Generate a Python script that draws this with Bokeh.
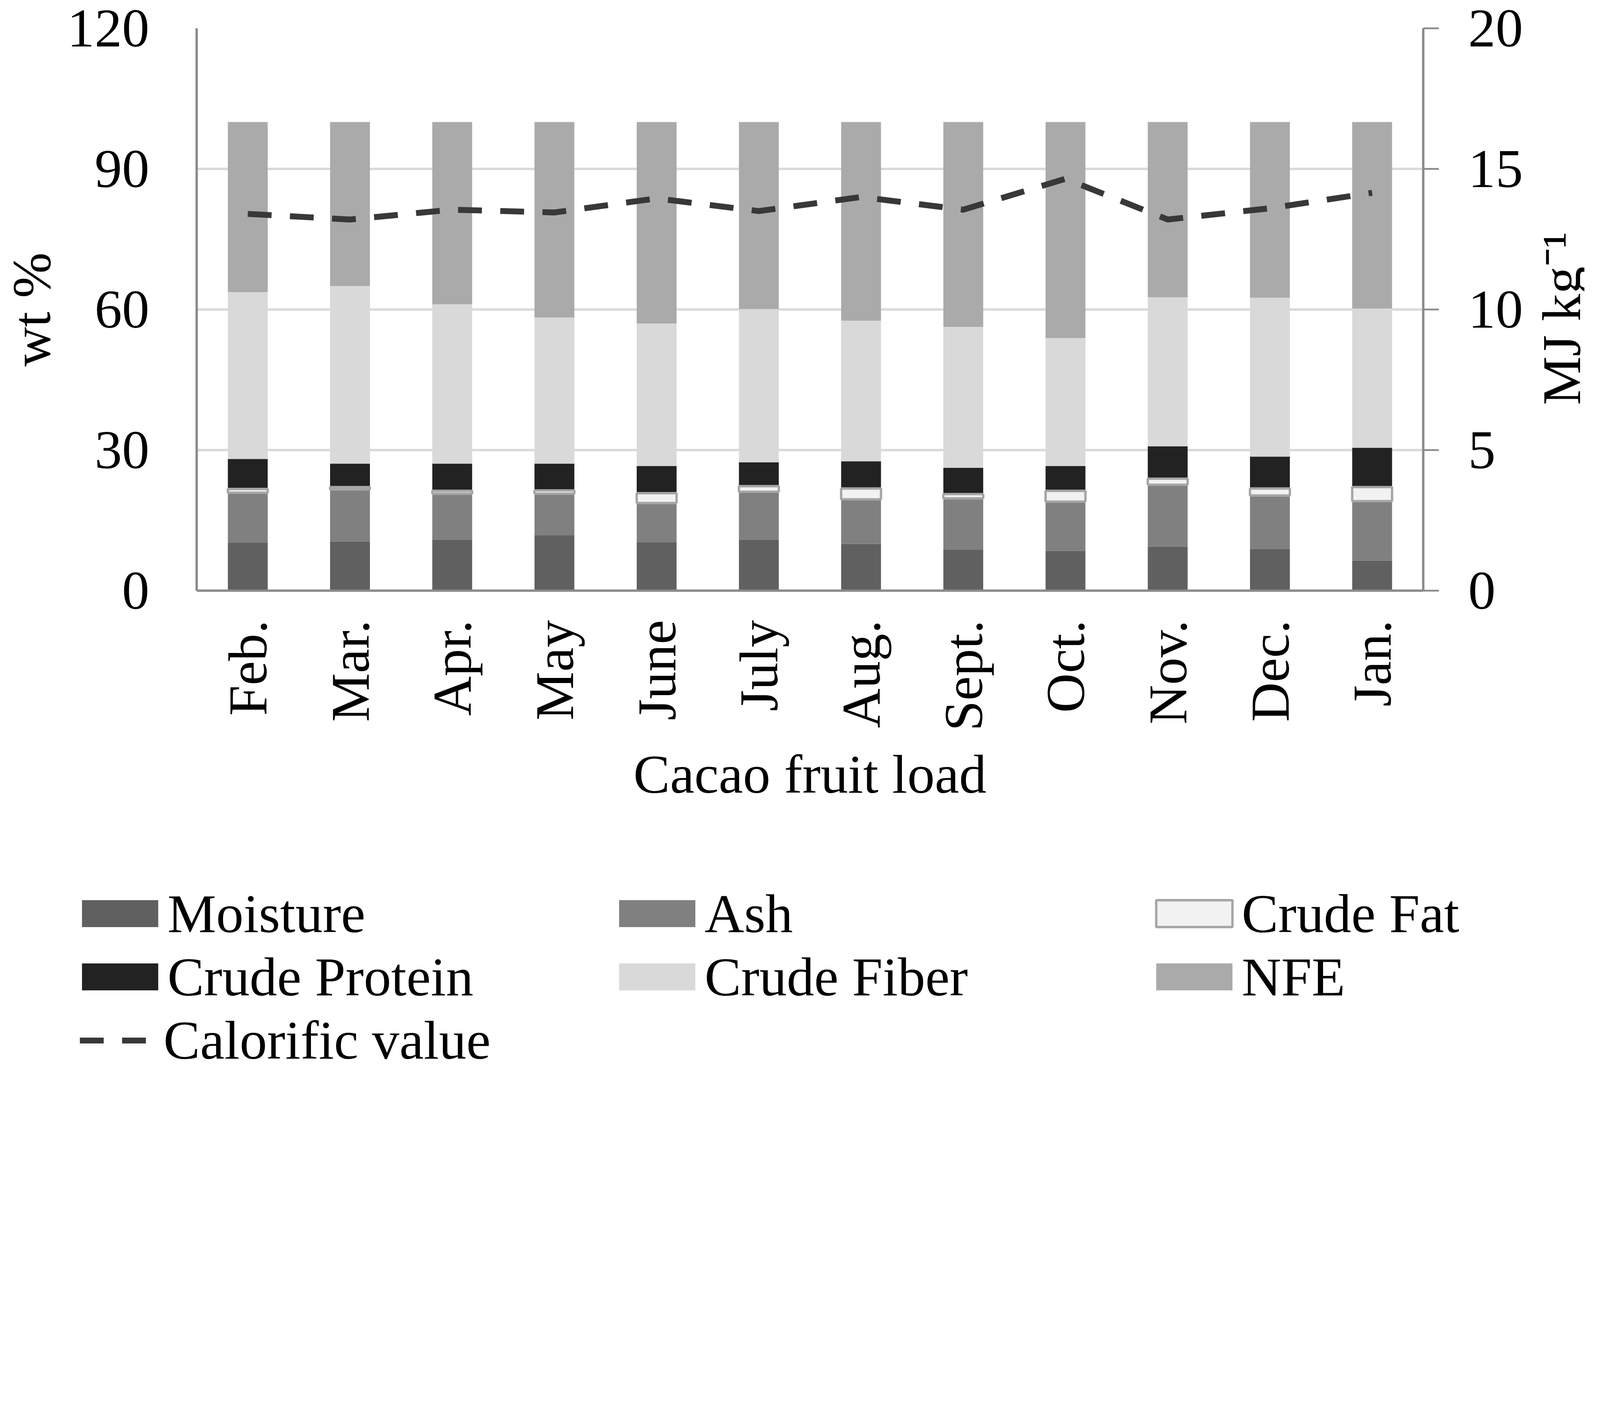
import math
from bokeh.plotting import figure
from bokeh.models import (FactorRange, Range1d, LinearAxis, FixedTicker, Legend,
                          LegendItem, ColumnDataSource, Label)
from bokeh.transform import stack
from bokeh.embed import file_html
from bokeh.resources import INLINE

# ---------------- data ----------------
months = ["Feb.", "Mar.", "Apr.", "May", "June", "July", "Aug.", "Sept.",
          "Oct.", "Nov.", "Dec.", "Jan."]
moisture = [10.2, 10.5, 10.9, 11.8, 10.3, 10.9, 10.0, 8.7, 8.5, 9.4, 8.9, 6.4]
ash = [10.7, 11.1, 9.8, 8.9, 8.4, 10.2, 9.5, 11.0, 10.5, 13.2, 11.4, 12.7]
crude_fat = [0.8, 0.5, 0.6, 0.7, 2.1, 1.2, 2.3, 0.9, 2.3, 1.3, 1.5, 3.0]
crude_protein = [6.4, 5.0, 5.8, 5.7, 5.8, 5.1, 5.8, 5.6, 5.3, 6.9, 6.8, 8.4]
crude_fiber = [35.6, 37.9, 34.0, 31.2, 30.4, 32.7, 30.0, 30.1, 27.3, 31.8, 33.9, 29.7]
nfe = [36.3, 35.0, 38.9, 41.7, 43.0, 39.9, 42.4, 43.7, 46.1, 37.4, 37.5, 39.8]
calorific = [13.4, 13.2, 13.55, 13.45, 13.95, 13.5, 14.0, 13.55, 14.65, 13.2, 13.6, 14.15]

wt_ticks = [0, 30, 60, 90, 120]
mj_ticks = [0, 5, 10, 15, 20]

series_colors = dict(moisture="#606060", ash="#808080", fat="#f2f2f2", protein="#222222",
                     fiber="#d9d9d9", nfe="#aaaaaa", line="#383838", fat_edge="#a6a6a6")

# ---------------- layout helpers (screen scale) ----------------
K = 5401 / 4096   # physical pixels per CSS pixel


def L(v):         # a length in reference pixels -> CSS pixels
    return v / K


FIG_W = 4096 - 16
FIG_H = int(3608 / K) - 16
B_LEFT = int(round(674 / K - 8))
B_TOP = int(round(105 / K - 8))
FRAME_W = int(round((4814 - 674) / K))
FRAME_H = int(round((2004 - 105) / K))
B_BOTTOM = 603
H1 = B_TOP + FRAME_H + B_BOTTOM
GAP = 33                   # observed offset between the chart and the legend strip
H2 = FIG_H - H1 - GAP + 120
P2_TOP = 8 + H1 + GAP      # page y (CSS) of the legend strip

FONT = "Liberation Serif"
FS = "%.1fpx" % L(185)

source = ColumnDataSource(dict(month=months, moisture=moisture, ash=ash, fat=crude_fat,
                               protein=crude_protein, fiber=crude_fiber, nfe=nfe,
                               cv=calorific))

p1 = figure(x_range=FactorRange(*months, range_padding=0), y_range=Range1d(0, 120),
            frame_width=FRAME_W, frame_height=FRAME_H, output_backend="svg",
            toolbar_location=None, title=None, min_border_left=B_LEFT,
            min_border_right=10, min_border_top=B_TOP, min_border_bottom=B_BOTTOM)
p1.background_fill_color = "white"
p1.border_fill_color = "white"
p1.outline_line_color = None

p1.xgrid.grid_line_color = None
p1.ygrid.ticker = FixedTicker(ticks=wt_ticks)
p1.ygrid.grid_line_color = "#d9d9d9"
p1.ygrid.grid_line_width = L(8)


def style_axis(ax):
    ax.axis_line_color = "#8a8a8a"
    ax.axis_line_width = L(8)
    ax.major_tick_in = 0
    ax.minor_tick_out = 0
    ax.minor_tick_in = 0
    ax.major_label_text_font = FONT
    ax.major_label_text_font_size = FS
    ax.major_label_text_color = "black"
    ax.axis_label_text_font = FONT
    ax.axis_label_text_font_size = FS
    ax.axis_label_text_font_style = "normal"
    ax.axis_label_text_color = "black"


ya = p1.yaxis[0]
style_axis(ya)
ya.ticker = FixedTicker(ticks=wt_ticks)
ya.axis_label = "wt %"
ya.major_tick_out = 0
ya.major_label_standoff = int(L(160))
ya.axis_label_standoff = int(L(15))

xa = p1.xaxis[0]
style_axis(xa)
xa.axis_label = "Cacao fruit load"
xa.major_tick_out = 0
xa.major_label_orientation = math.pi / 2
xa.major_label_standoff = int(L(100))
xa.axis_label_standoff = int(L(40))

p1.extra_y_ranges = {"mj": Range1d(0, 20)}
ra = LinearAxis(y_range_name="mj", ticker=FixedTicker(ticks=mj_ticks))
style_axis(ra)
ra.major_tick_line_color = "#8a8a8a"
ra.major_tick_line_width = L(6)
ra.major_tick_out = int(L(54))
ra.major_label_standoff = int(L(100))
p1.add_layout(ra, "right")

# right-hand axis title, reading bottom-to-top like the reference
mj_title = Label(x=96, y=58.1, x_units="screen", y_units="data", text="MJ kg⁻¹",
                 angle=math.pi / 2, text_align="center", text_baseline="alphabetic",
                 text_font=FONT, text_font_size=FS, text_color="black")
p1.add_layout(mj_title, "right")

W = 0.39
r_moist = p1.vbar(x="month", bottom=0, top=stack("moisture"), width=W, source=source,
                  fill_color=series_colors["moisture"], line_color=None)
r_ash = p1.vbar(x="month", bottom=stack("moisture"), top=stack("moisture", "ash"), width=W,
                source=source, fill_color=series_colors["ash"], line_color=None)
r_prot = p1.vbar(x="month", bottom=stack("moisture", "ash", "fat"),
                 top=stack("moisture", "ash", "fat", "protein"), width=W, source=source,
                 fill_color=series_colors["protein"], line_color=None)
r_fib = p1.vbar(x="month", bottom=stack("moisture", "ash", "fat", "protein"),
                top=stack("moisture", "ash", "fat", "protein", "fiber"), width=W,
                source=source, fill_color=series_colors["fiber"], line_color=None)
r_nfe = p1.vbar(x="month", bottom=stack("moisture", "ash", "fat", "protein", "fiber"),
                top=stack("moisture", "ash", "fat", "protein", "fiber", "nfe"), width=W,
                source=source, fill_color=series_colors["nfe"], line_color=None)
r_fat = p1.vbar(x="month", bottom=stack("moisture", "ash"),
                top=stack("moisture", "ash", "fat"), width=W, source=source,
                fill_color=series_colors["fat"], line_color=series_colors["fat_edge"],
                line_width=L(8))

DASH = "%d %d" % (round(L(80)), round(L(62)))
r_cv = p1.line(x="month", y="cv", source=source, y_range_name="mj",
               line_color=series_colors["line"], line_width=L(20), line_dash=DASH)

# ---------------- legend strip (separate root below the chart) ----------------
p2 = figure(width=FIG_W, height=H2, x_range=Range1d(0, 1), y_range=Range1d(0, 1),
            output_backend="svg", toolbar_location=None, title=None,
            x_axis_type=None, y_axis_type=None, min_border=0)
p2.outline_line_color = None
p2.background_fill_color = "white"
p2.border_fill_color = "white"
p2.xgrid.visible = False
p2.ygrid.visible = False

# legend keys: same styles as the chart series (hidden; only used for the legend swatches)
KX = [0.5]
key_kw = dict(x=KX, top=[0.5], bottom=[0.4], width=0.1, visible=False)
k_moist = p2.vbar(fill_color=series_colors["moisture"], line_color=None, **key_kw)
k_ash = p2.vbar(fill_color=series_colors["ash"], line_color=None, **key_kw)
k_fat = p2.vbar(fill_color=series_colors["fat"], line_color=series_colors["fat_edge"],
                line_width=L(8), **key_kw)
k_prot = p2.vbar(fill_color=series_colors["protein"], line_color=None, **key_kw)
k_fib = p2.vbar(fill_color=series_colors["fiber"], line_color=None, **key_kw)
k_nfe = p2.vbar(fill_color=series_colors["nfe"], line_color=None, **key_kw)
k_cv = p2.line(x=[0.4, 0.6], y=[0.5, 0.5], line_color=series_colors["line"],
               line_width=L(20), line_dash=DASH, visible=False)

GH = int(round(L(114)))
IH = int(round(L(214)))
COL = L(1813)
common = dict(orientation="horizontal", glyph_height=GH, label_standoff=0,
              label_height=IH, spacing=0, padding=0, margin=0, border_line_alpha=0,
              background_fill_alpha=0, label_text_font=FONT, label_text_font_size=FS,
              label_text_color="black", label_text_baseline="alphabetic",
              inactive_fill_alpha=0, click_policy="none")


def loc(left_phys, top_phys, nrows):
    x = left_phys / K - 8
    top_in_strip = top_phys / K - P2_TOP
    y = H2 - (top_in_strip + nrows * IH)
    return (x, y)


leg1 = Legend(items=[LegendItem(label="Moisture", renderers=[k_moist]),
                     LegendItem(label="Ash", renderers=[k_ash]),
                     LegendItem(label="Crude Fat", renderers=[k_fat]),
                     LegendItem(label="Crude Protein", renderers=[k_prot]),
                     LegendItem(label="Crude Fiber", renderers=[k_fib]),
                     LegendItem(label="NFE", renderers=[k_nfe])],
              ncols=3, glyph_width=int(round(L(322))),
              label_width=int(round(COL - L(322))),
              location=loc(254, 3032, 2), **common)
leg2 = Legend(items=[LegendItem(label="Calorific value", renderers=[k_cv])],
              glyph_width=int(round(L(284))), label_width=int(round(L(1000))),
              location=loc(279, 3460, 1), **common)
p2.add_layout(leg1)
p2.add_layout(leg2)

p = [p1, p2]

open("out.html", "w").write(file_html(p, INLINE))
